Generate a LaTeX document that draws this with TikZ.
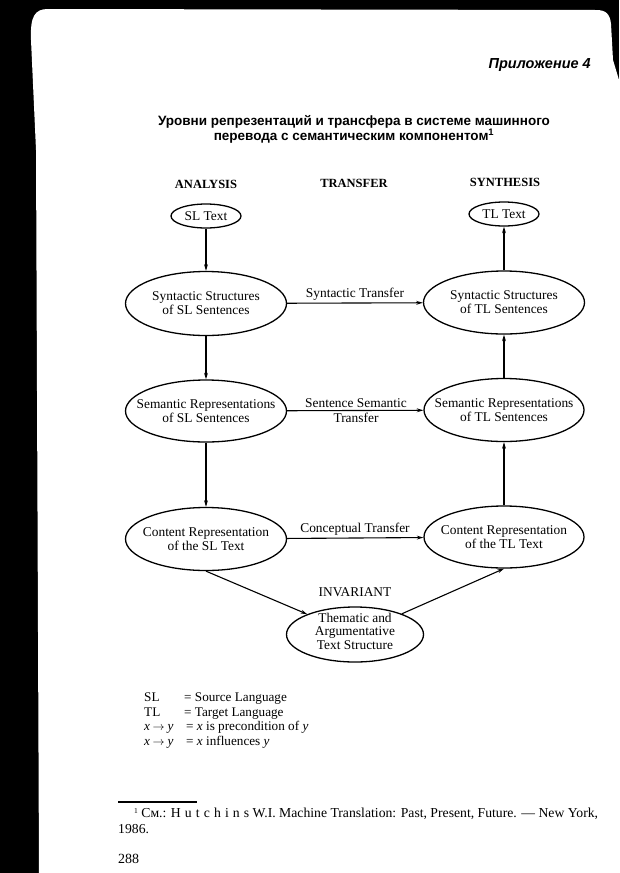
\documentclass[tikz,border=0pt]{standalone}
\usepackage{fontspec}
\setmainfont{Liberation Serif}
\newfontfamily\arialfont{Liberation Sans}
\usetikzlibrary{shapes.geometric,arrows.meta}
\begin{document}
\begin{tikzpicture}[x=1pt,y=-1pt,
  ellbox/.style={draw,ellipse,line width=1.3pt,inner sep=0pt},
  ltxt/.style={inner sep=0pt,align=center,font=\fontsize{13.4}{14}\selectfont},
  arr/.style={line width=1.1pt,-{Stealth[length=6.5pt,width=3.8pt]}},
  colhdr/.style={inner sep=0pt,font=\fontsize{12.5}{14}\selectfont\bfseries},
  legtxt/.style={inner sep=0pt,anchor=base west,font=\fontsize{13.2}{14}\selectfont}]
\useasboundingbox (0,0) rectangle (619,873);
% scanned page with dark border
\fill[black] (0,0) rectangle (619,873);
\fill[white] (39,873) -- (36,150) -- (31,40) .. controls (30,16) and (35,9) .. (48,9)
  -- (596,10) .. controls (606,10) and (610,14) .. (611,24) -- (613,60) -- (619,80) -- (619,873) -- cycle;
% header
\node[inner sep=0pt,anchor=east,font={\arialfont\fontsize{14.5}{16}\selectfont\bfseries\itshape}] (app) at (591,65) {Приложение 4};
\node[inner sep=0pt,align=center,font={\arialfont\fontsize{13.5}{15}\selectfont\bfseries}] (title) at (354,129.5)
  {Уровни репрезентаций и трансфера в системе машинного\\перевода с семантическим компонентом\textsuperscript{1}};
% column headers
\node[colhdr] (hA) at (206,184) {ANALYSIS};
\node[colhdr] (hT) at (354,183) {TRANSFER};
\node[colhdr] (hS) at (505,182) {SYNTHESIS};
% left column
\node[ellbox,minimum width=70pt,minimum height=24pt] (slt) at (206,216) {};
\node[ltxt] (sltT) at (slt) {SL Text};
\node[ellbox,minimum width=161pt,minimum height=64pt] (synSL) at (206,303.5) {};
\node[ltxt] (synSLT) at (synSL) {Syntactic Structures\\of SL Sentences};
\node[ellbox,minimum width=161pt,minimum height=62pt] (semSL) at (206,411) {};
\node[ltxt] (semSLT) at (semSL) {Semantic Representations\\of SL Sentences};
\node[ellbox,minimum width=161pt,minimum height=63pt] (cSL) at (206,539) {};
\node[ltxt] (cSLT) at (cSL) {Content Representation\\of the SL Text};
% right column
\node[ellbox,minimum width=70pt,minimum height=24pt] (tlt) at (504,214) {};
\node[ltxt] (tltT) at (tlt) {TL Text};
\node[ellbox,minimum width=161pt,minimum height=63pt] (synTL) at (504,302.5) {};
\node[ltxt] (synTLT) at (synTL) {Syntactic Structures\\of TL Sentences};
\node[ellbox,minimum width=160pt,minimum height=63pt] (semTL) at (504,410) {};
\node[ltxt] (semTLT) at (semTL) {Semantic Representations\\of TL Sentences};
\node[ellbox,minimum width=160pt,minimum height=62pt] (cTL) at (504,537) {};
\node[ltxt] (cTLT) at (cTL) {Content Representation\\of the TL Text};
% invariant
\node[ellbox,minimum width=137pt,minimum height=55pt] (inv) at (355,634.5) {};
\node[ltxt,font=\fontsize{13.4}{13.5}\selectfont] (invT) at (355,631) {Thematic and\\Argumentative\\Text Structure};
\node[ltxt] (invL) at (355,592) {INVARIANT};
% transfer labels
\node[ltxt] (stL) at (355,294.5) {Syntactic Transfer};
\node[ltxt,font=\fontsize{13.4}{15}\selectfont] (ssL) at (356,411) {Sentence Semantic\\Transfer};
\node[ltxt] (ctL) at (355,529) {Conceptual Transfer};
% connectors
\draw[arr] (slt) -- (synSL);
\draw[arr] (synSL) -- (semSL);
\draw[arr] (semSL) -- (cSL);
\draw[arr] (cTL) -- (semTL);
\draw[arr] (semTL) -- (synTL);
\draw[arr] (synTL) -- (tlt);
\draw[arr] (synSL) -- (synTL);
\draw[arr] (semSL) -- (semTL);
\draw[arr] (cSL) -- (cTL);
\draw[arr] (cSL.south) -- (inv);
\draw[arr] (inv) -- (cTL.south);
% legend
\node[legtxt] (l1a) at (144,701.5) {SL};
\node[legtxt] (l1b) at (184,701.5) {= Source Language};
\node[legtxt] (l2a) at (144,716) {TL};
\node[legtxt] (l2b) at (184,716) {= Target Language};
\node[legtxt] (l3a) at (144,730.5) {\textit{x}\hspace{2.5pt}$\rightarrow$\hspace{3pt}\textit{y}};
\node[legtxt] (l3b) at (186,730.5) {= \textit{x} is precondition of \textit{y}};
\node[legtxt] (l4a) at (144,745) {\textit{x}\hspace{2.5pt}$\rightarrow$\hspace{3pt}\textit{y}};
\node[legtxt] (l4b) at (186,745) {= \textit{x} influences \textit{y}};
% footnote
\coordinate (fr1) at (118,802);
\coordinate (fr2) at (197,802);
\draw[line width=1.1pt] (fr1) -- (fr2);
\node[legtxt,font=\fontsize{13.7}{14}\selectfont] (fn1) at (134,817.5)
  {\raisebox{4pt}{\fontsize{7.5}{8}\selectfont 1} См.: {\addfontfeatures{LetterSpace=30}Hutchins} W.I. Machine Translation: Past, Present, Future. --- New York,};
\node[legtxt,font=\fontsize{13.7}{14}\selectfont] (fn2) at (118,833.5) {1986.};
\node[legtxt,font=\fontsize{14}{16}\selectfont] (pg) at (118,863) {288};
\end{tikzpicture}
\end{document}
